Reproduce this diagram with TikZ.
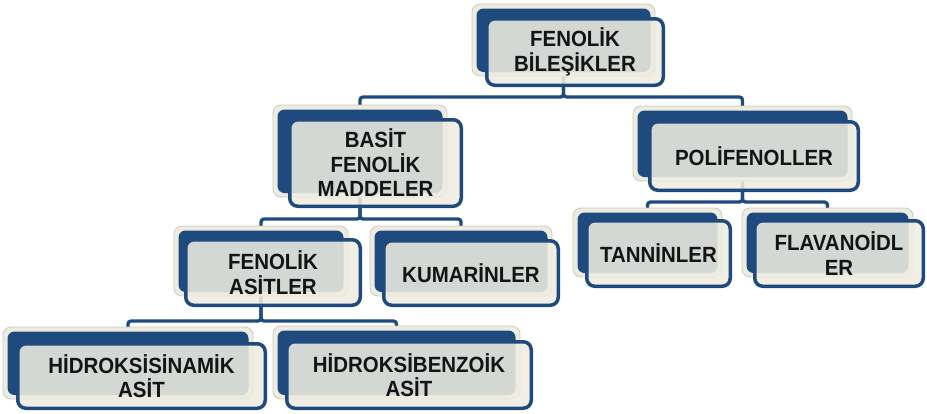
\documentclass[tikz,border=0pt]{standalone}
\usepackage{fontspec}
\newfontfamily\cardfont[FakeStretch=0.93]{Liberation Sans}
\definecolor{cblue}{HTML}{1F4A7D}
\definecolor{ccream}{HTML}{EEECE1}
\definecolor{cborder}{HTML}{CBCAC0}
\definecolor{ctext}{HTML}{141414}
\pgfdeclarelayer{bg}
\pgfsetlayers{bg,main}
\tikzset{
  backcream/.style={fill=ccream, draw=cborder, line width=0.8pt, rounded corners=8pt},
  backblue/.style={fill=cblue, rounded corners=7pt},
  frontcard/.style={fill=ccream, fill opacity=0.88, draw=cblue, line width=3.5pt, rounded corners=8pt},
  cardtext/.style={font=\cardfont\fontsize{22}{24.5}\selectfont\bfseries, text=ctext, align=center, inner sep=0pt},
  conn/.style={draw=cblue, line width=3.3pt, rounded corners=3pt}
}
% #1 name, #2 bx0, #3 by0, #4 bx1, #5 fx0, #6 fy0, #7 fx1, #8 fy1, #9 text
\newcommand\mycard[9]{%
  \draw[backcream] (#2,#3) rectangle (#4,#8-11);
  \fill[backblue] (#2+4.5,#3+4.5) rectangle (#4-4.5,#8-15);
  \draw[frontcard] (#5+1.75,#6+1.75) rectangle (#7-1.75,#8-1.75);
  \node[cardtext] (#1) at ({(#5+#7)/2},{(#6+#8)/2}) {#9};
  \coordinate (#1-in) at ({(#2+#4)/2},#3);
  \coordinate (#1-out) at ({(#2+#4)/2},#8-11);
}
\begin{document}
\begin{tikzpicture}[x=1pt,y=-1pt]
\useasboundingbox (0,0) rectangle (927,413);
\mycard{top}{472}{4}{655}{485}{17}{665}{87}{FENOLİK\\BİLEŞİKLER}
\mycard{basit}{273}{105}{447}{288}{118}{463}{208}{BASİT\\FENOLİK\\MADDELER}
\mycard{poli}{633}{106}{852}{648}{120}{860}{192}{POLİFENOLLER}
\mycard{fenasit}{174}{226}{348}{184}{238}{362}{307}{FENOLİK\\ASİTLER}
\mycard{kumar}{370}{226}{552}{382}{239}{560}{307}{KUMARİNLER}
\mycard{tann}{573}{208}{722}{585}{219}{732}{288}{TANNİNLER}
\mycard{flav}{742}{208}{913}{753}{219}{925}{288}{FLAVANOİDL\\ER}
\mycard{hsin}{3}{327}{253}{16}{342}{267}{410}{HİDROKSİSİNAMİK\\ASİT}
\mycard{hben}{273}{326}{520}{285}{340}{533}{410}{HİDROKSİBENZOİK\\ASİT}
\begin{pgfonlayer}{bg}
\draw[conn] (top-out) -- ++(0,21) -| (basit-in);
\draw[conn] (top-out) -- ++(0,21) -| (poli-in);
\draw[conn] (basit-out) -- ++(0,22) -| (fenasit-in);
\draw[conn] (basit-out) -- ++(0,22) -| (kumar-in);
\draw[conn] (poli-out) -- ++(0,21) -| (tann-in);
\draw[conn] (poli-out) -- ++(0,21) -| (flav-in);
\draw[conn] (fenasit-out) -- ++(0,25) -| (hsin-in);
\draw[conn] (fenasit-out) -- ++(0,25) -| (hben-in);
\end{pgfonlayer}
\end{tikzpicture}
\end{document}
